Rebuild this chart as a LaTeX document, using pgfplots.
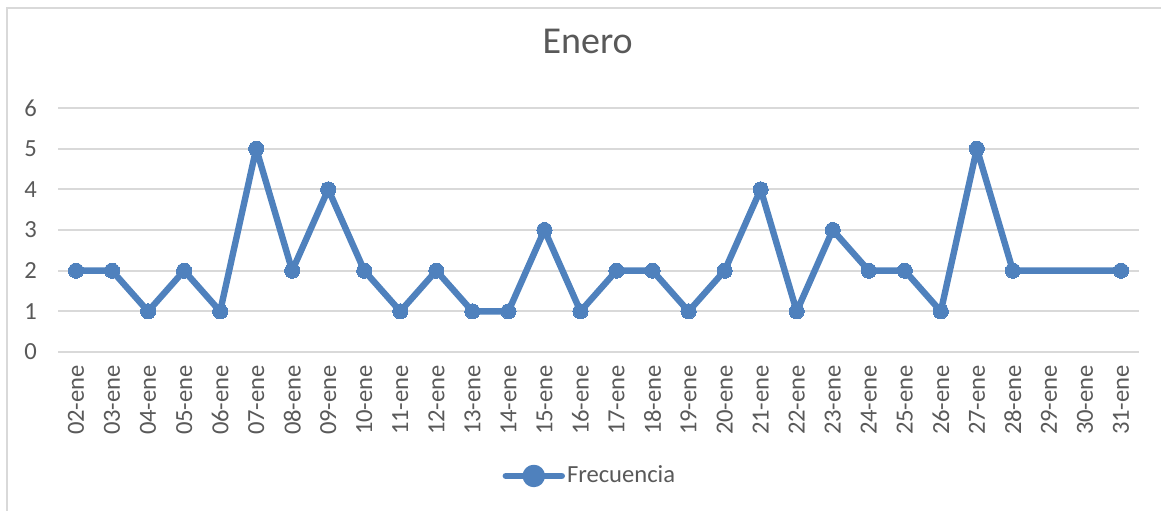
\documentclass[border=0pt]{standalone}
\usepackage{fontspec}
\setmainfont{Carlito}
\usepackage{pgfplots}
\pgfplotsset{compat=1.18}
\definecolor{serie}{RGB}{79,129,189}
\definecolor{txt}{RGB}{89,89,89}
\definecolor{gridc}{RGB}{217,217,217}
\begin{document}
\begin{tikzpicture}
\useasboundingbox (-29pt,-79pt) rectangle (551.5pt,176pt);
\draw[gridc,line width=0.8pt] (-25.5pt,-80pt) -- (-25.5pt,172pt) -- (552pt,172pt);
\begin{axis}[
  at={(0,0)},anchor=south west,
  scale only axis,width=540.5pt,height=122pt,
  xmin=-0.5,xmax=29.5,ymin=0,ymax=6,
  ytick={0,1,2,3,4,5,6},
  xtick={0,...,29},
  xticklabels={02-ene,03-ene,04-ene,05-ene,06-ene,07-ene,08-ene,09-ene,10-ene,11-ene,12-ene,13-ene,14-ene,15-ene,16-ene,17-ene,18-ene,19-ene,20-ene,21-ene,22-ene,23-ene,24-ene,25-ene,26-ene,27-ene,28-ene,29-ene,30-ene,31-ene},
  axis line style={draw=none},
  major tick length=0pt,
  tick style={draw=none},
  ymajorgrids,
  grid style={gridc,line width=1pt},
  /pgf/number format/assume math mode=true,
  xticklabel style={yshift=-3pt,rotate=90,anchor=east,font=\fontsize{12.3}{14}\selectfont,text=txt},
  yticklabel style={anchor=east,font=\fontsize{12.3}{14}\selectfont,text=txt,xshift=-7pt},
  title=Enero,
  title style={at={(0.49,1.225)},anchor=center,font=\fontsize{19}{22}\selectfont,text=txt},
  legend style={at={(0.492,-0.508)},anchor=center,draw=none,fill=none,font=\fontsize{12.3}{14}\selectfont,text=txt,inner sep=0pt,nodes={inner xsep=1pt}},
  legend image code/.code={\draw[serie,line width=3.2pt,line cap=round] (0pt,0pt) -- (28pt,0pt); \fill[serie] (14pt,0pt) circle (4pt);},
]
\addplot[serie,line width=3.2pt,line join=round,mark=*,mark size=3.8pt,mark options={fill=serie,draw=none,line width=0pt}] coordinates {
(0,2) (1,2) (2,1) (3,2) (4,1) (5,5) (6,2) (7,4) (8,2) (9,1) (10,2) (11,1) (12,1) (13,3) (14,1) (15,2) (16,2) (17,1) (18,2) (19,4) (20,1) (21,3) (22,2) (23,2) (24,1) (25,5) (26,2) (29,2)
};
\addlegendentry{Frecuencia}
\end{axis}
\end{tikzpicture}
\end{document}
